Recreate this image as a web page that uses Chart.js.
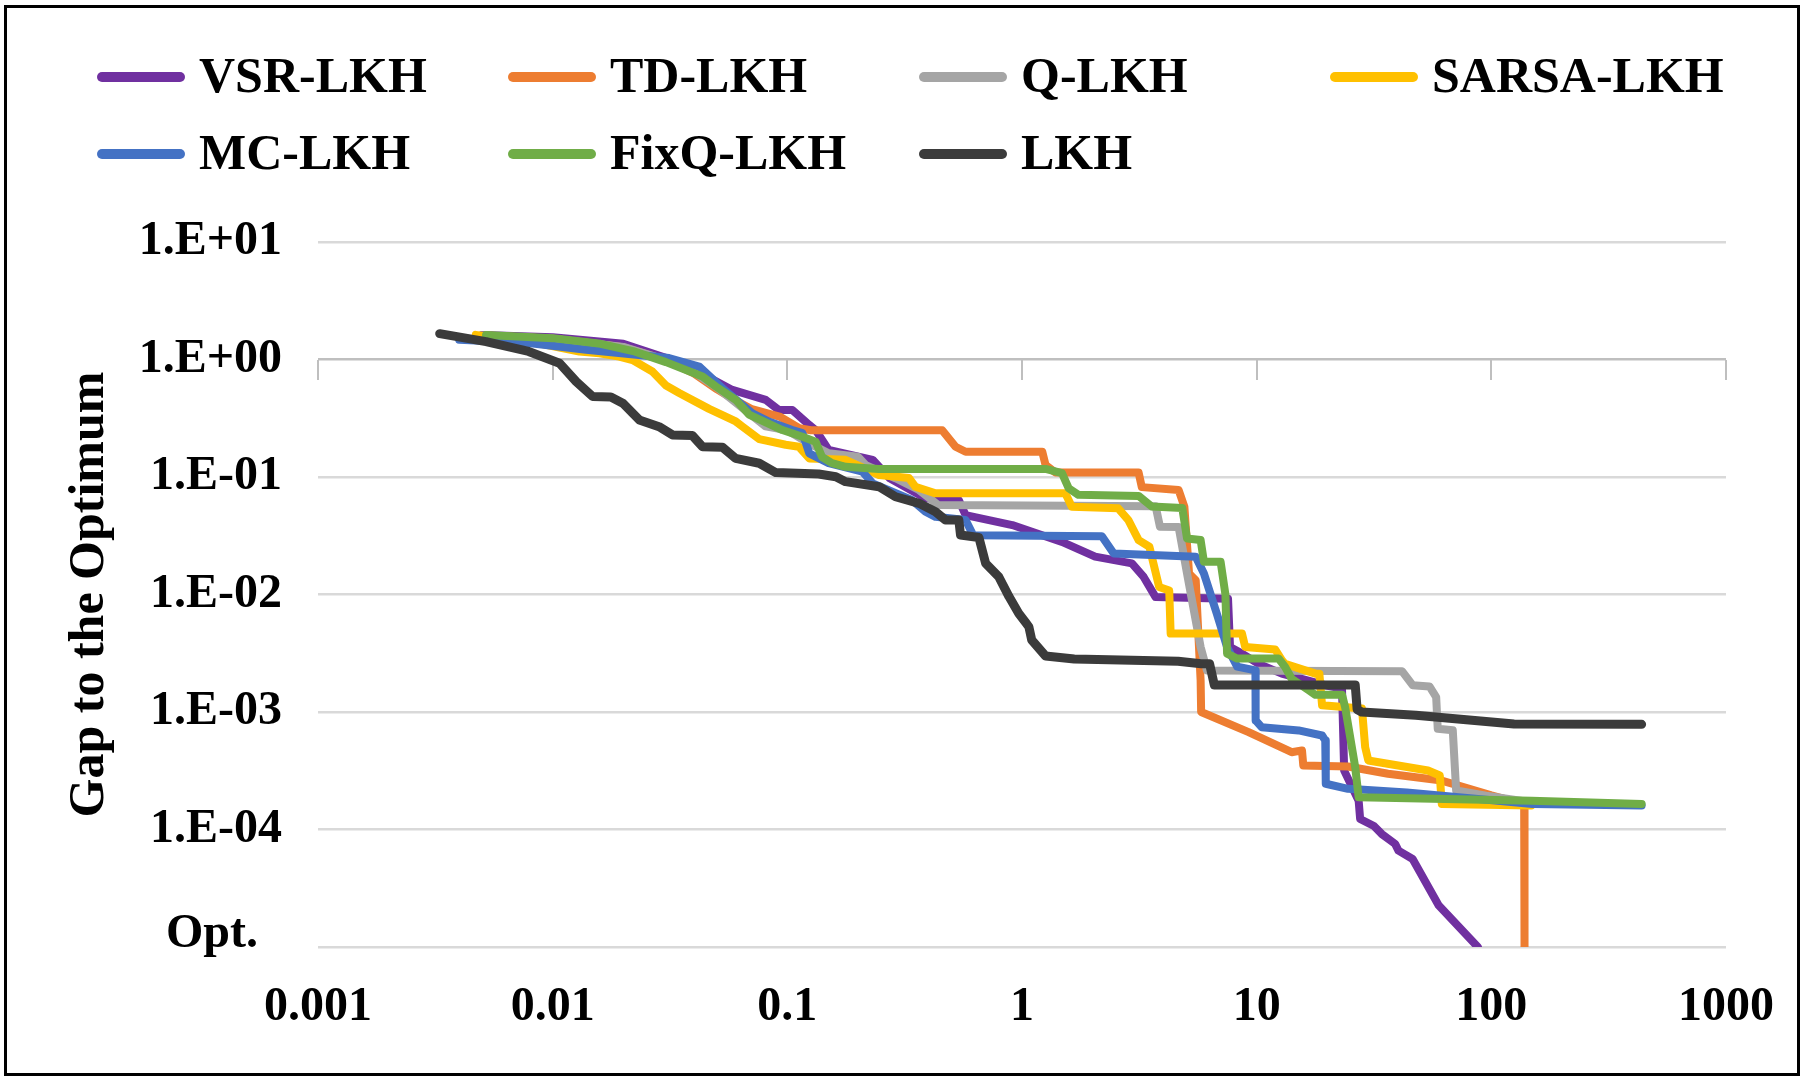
<!DOCTYPE html>
<html>
<head>
<meta charset="utf-8">
<script src="https://cdn.jsdelivr.net/npm/chart.js@4.4.0/dist/chart.umd.min.js"></script>
<style>
  html, body { margin: 0; padding: 0; background: #fff; }
  #wrap { position: relative; width: 1806px; height: 1079px; }
  #frame { position: absolute; left: 4px; top: 5px; width: 1790px; height: 1065px; border: 3px solid #000; pointer-events: none; }
</style>
</head>
<body>
<div id="wrap">
  <canvas id="myChart" width="1806" height="1079"></canvas>
  <div id="frame"></div>
</div>
<script>
// x: run time, y: gap to the optimum (1e-5 stands for "Opt.")
const xTicks = [0.001, 0.01, 0.1, 1, 10, 100, 1000];
const xLabels = ['0.001', '0.01', '0.1', '1', '10', '100', '1000'];
const yTicks = [1e-5, 1e-4, 1e-3, 1e-2, 1e-1, 1, 10];
const yLabels = ['Opt.', '1.E-04', '1.E-03', '1.E-02', '1.E-01', '1.E+00', '1.E+01'];

const seriesNames = ['VSR-LKH', 'TD-LKH', 'Q-LKH', 'SARSA-LKH', 'MC-LKH', 'FixQ-LKH', 'LKH'];

const vsrLkh = [[0.005,1.62],[0.01,1.55],[0.02,1.36],[0.0357,0.93],[0.0583,0.551],[0.0809,0.453],[0.092,0.372],[0.105,0.372],
  [0.124,0.277],[0.132,0.251],[0.15,0.17],[0.231,0.14],[0.273,0.0975],[0.388,0.0658],[0.538,0.0636],[0.575,0.0474],
  [0.909,0.039],[1.48,0.028],[2.05,0.021],[2.94,0.0184],[3.3,0.0141],[3.71,0.0095],[7.55,0.0092],[7.7,0.00357],
  [8.66,0.00314],[10.2,0.00257],[12.8,0.00212],[19.6,0.00169],[23.1,0.00158],[23.6,0.000317],[27.2,0.000176],
  [27.6,0.000123],[31.6,0.000107],[34.1,0.0000917],[38.9,0.0000754],[40.2,0.0000661],[46.2,0.0000561],
  [59.6,0.0000227],[87.6,0.00001]];
const tdLkh = [[0.0052,1.6],[0.01,1.5],[0.02,1.27],[0.03,1.0],[0.04,0.76],[0.05,0.56],[0.06,0.45],[0.07,0.38],
  [0.0926,0.327],[0.1125,0.26],[0.126,0.25],[0.457,0.25],[0.521,0.181],[0.575,0.164],[1.22,0.164],[1.26,0.1265],
  [1.39,0.109],[3.14,0.109],[3.24,0.082],[4.65,0.0775],[4.92,0.0558],[5.15,0.0151],[5.5,0.0132],[5.77,0.00186],
  [5.8,0.001],[9.24,0.000674],[14.1,0.000455],[15.6,0.000471],[15.8,0.000351],[24.5,0.000344],[36.3,0.000298],
  [61.4,0.000261],[72.4,0.000237],[100,0.000195],[136,0.000165],[138,0.00016],[138.5,0.00001]];
const qLkh = [[0.005,1.6],[0.01,1.5],[0.02,1.28],[0.03,1.0],[0.04,0.78],[0.05,0.58],[0.0807,0.27],[0.1,0.25],
  [0.12,0.2],[0.15,0.159],[0.2,0.149],[0.216,0.126],[0.289,0.0975],[0.364,0.0775],[0.44,0.0577],[3.71,0.0565],
  [3.87,0.0378],[4.65,0.0376],[5.05,0.0151],[5.77,0.00357],[6.14,0.00226],[41.7,0.00222],[46.2,0.00169],
  [54.5,0.00165],[58.2,0.00134],[59.1,0.00072],[68.5,0.0007],[70.8,0.000215],[95,0.000194],[150,0.00017]];
const sarsaLkh = [[0.0047,1.62],[0.008,1.42],[0.013,1.17],[0.0158,1.13],[0.0192,1.06],[0.0219,0.99],[0.0266,0.79],
  [0.0304,0.6],[0.0346,0.519],[0.0464,0.38],[0.0603,0.297],[0.0642,0.27],[0.0759,0.21],[0.0984,0.188],[0.112,0.181],
  [0.124,0.144],[0.177,0.14],[0.246,0.104],[0.33,0.098],[0.351,0.0827],[0.428,0.0726],[1.53,0.0726],[1.63,0.0558],
  [2.57,0.0541],[2.84,0.043],[3.14,0.029],[3.49,0.0255],[3.84,0.0116],[4.24,0.0108],[4.3,0.00465],[8.66,0.00465],
  [8.94,0.00357],[12.0,0.0034],[12.8,0.00276],[13.2,0.00257],[17.8,0.00212],[18.5,0.00212],[19.0,0.00114],
  [28.1,0.00107],[29,0.000502],[29.9,0.000387],[53.7,0.000318],[60.3,0.000288],[61.5,0.000165],[148,0.00016]];
const mcLkh = [[0.004,1.47],[0.0079,1.38],[0.0139,1.21],[0.0313,1.03],[0.0421,0.871],[0.0539,0.552],[0.071,0.349],
  [0.0834,0.297],[0.105,0.251],[0.116,0.236],[0.12,0.194],[0.124,0.159],[0.15,0.131],[0.209,0.111],[0.231,0.0883],
  [0.339,0.0637],[0.388,0.0506],[0.428,0.0458],[0.575,0.043],[0.619,0.032],[2.19,0.0313],[2.46,0.0223],[5.5,0.021],
  [5.96,0.0151],[6.76,0.00689],[7.48,0.00357],[8.26,0.00243],[9.88,0.00226],[9.9,0.000848],[10.5,0.000743],
  [15.1,0.000697],[19.0,0.000631],[19.6,0.000573],[19.7,0.000245],[24.5,0.000222],[43.6,0.000207],[150,0.000165],
  [437,0.00016]];
const fixqLkh = [[0.0052,1.62],[0.01,1.52],[0.016,1.36],[0.022,1.18],[0.0304,0.95],[0.0435,0.716],[0.0496,0.589],
  [0.0603,0.453],[0.0687,0.34],[0.0952,0.251],[0.116,0.22],[0.132,0.2],[0.1405,0.148],[0.155,0.131],[0.177,0.122],
  [0.245,0.117],[1.26,0.117],[1.48,0.108],[1.58,0.0803],[1.74,0.0705],[3.14,0.069],[3.57,0.0561],[4.82,0.0544],
  [5.05,0.030],[5.77,0.0291],[5.96,0.019],[7.02,0.019],[7.36,0.01],[7.48,0.00314],[8.26,0.00285],[12.4,0.00285],
  [13.2,0.00243],[14.1,0.00192],[16.6,0.00154],[17.8,0.0014],[23.1,0.0014],[23.8,0.00111],[26.3,0.000339],
  [27.2,0.000188],[148.5,0.000176],[437,0.000165]];
const lkh = [[0.0033,1.66],[0.0052,1.42],[0.0079,1.17],[0.0107,0.93],[0.0126,0.648],[0.0148,0.484],[0.0177,0.48],
  [0.0199,0.425],[0.0234,0.306],[0.0284,0.268],[0.0324,0.228],[0.0394,0.225],[0.0435,0.181],[0.0529,0.179],
  [0.0602,0.144],[0.0759,0.131],[0.0893,0.109],[0.136,0.106],[0.161,0.1006],[0.177,0.0913],[0.246,0.0827],
  [0.289,0.0679],[0.364,0.0597],[0.428,0.0506],[0.472,0.043],[0.538,0.043],[0.547,0.0321],[0.655,0.0306],
  [0.70,0.0184],[0.797,0.0141],[0.88,0.0096],[0.969,0.0069],[1.035,0.0058],[1.07,0.0053],[1.10,0.0041],
  [1.26,0.0030],[1.67,0.00283],[4.63,0.0027],[5.8,0.00257],[6.3,0.00257],[6.6,0.0017],[26.3,0.0017],
  [26.8,0.00105],[28,0.001],[47.7,0.00094],[125,0.00079],[437,0.000785]];

const seriesData = [vsrLkh, tdLkh, qLkh, sarsaLkh, mcLkh, fixqLkh, lkh];
const seriesColors = ['#7030a0', '#ed7d31', '#a5a5a5', '#ffc000', '#4472c4', '#70ad47', '#3b3b3b'];

const serif = "'Liberation Serif', 'Times New Roman', serif";
Chart.defaults.font.family = serif;
Chart.defaults.font.weight = 'bold';
Chart.defaults.color = '#000';

// legend in four fixed columns, like the spreadsheet one
const columnLegend = {
    id: 'columnLegend',
    afterDraw(chart) {
        const ctx = chart.ctx;
        ctx.save();
        ctx.font = 'bold 50px ' + serif;
        ctx.textBaseline = 'middle';
        ctx.textAlign = 'left';
        chart.data.datasets.forEach((ds, i) => {
            const x = 98 + (i % 4) * 411;
            const y = 77 + Math.floor(i / 4) * 77;
            ctx.strokeStyle = ds.borderColor;
            ctx.lineWidth = 10;
            ctx.lineCap = 'round';
            ctx.beginPath();
            ctx.moveTo(x + 4, y);
            ctx.lineTo(x + 82, y);
            ctx.stroke();
            ctx.fillStyle = '#000';
            ctx.fillText(ds.label, x + 101, y + 2);
        });
        ctx.restore();
    }
};

const decadeTicks = (list) => (scale) => { scale.ticks = list.map(v => ({ value: v })); };

const ctx = document.getElementById('myChart').getContext('2d');
const myChart = new Chart(ctx, {
    type: 'line',
    data: {
        datasets: seriesData.map((pts, i) => ({
            label: seriesNames[i],
            data: pts.map(([x, y]) => ({ x, y })),
            borderColor: seriesColors[i],
            backgroundColor: seriesColors[i],
            borderWidth: i === 6 ? 9 : 8,
            pointRadius: 0,
            tension: 0,
            fill: false,
            borderCapStyle: 'round',
            borderJoinStyle: 'round',
            // later series on top
            order: seriesData.length - i,
            xAxisID: 'x',
            yAxisID: 'y',
        })),
    },
    plugins: [columnLegend],
    options: {
        responsive: false,
        animation: false,
        layout: { padding: { top: 242, right: 78, bottom: 32, left: 56 } },
        plugins: {
            legend: { display: false },
            tooltip: { enabled: false },
        },
        scales: {
            x: {
                type: 'logarithmic',
                position: 'bottom',
                min: 0.001,
                max: 1000,
                afterBuildTicks: decadeTicks(xTicks),
                afterFit: (s) => { s.height = 100; },
                grid: { display: false, drawTicks: false },
                border: { display: false },
                ticks: {
                    color: '#000',
                    font: { size: 48, weight: 'bold' },
                    padding: 32,
                    maxRotation: 0,
                    autoSkip: false,
                    callback: (v, i) => xLabels[i],
                },
            },
            // axis line crosses at 1: only its tick marks are drawn
            x2: {
                type: 'logarithmic',
                axis: 'x',
                position: { y: 1 },
                min: 0.001,
                max: 1000,
                afterBuildTicks: decadeTicks(xTicks),
                grid: { drawOnChartArea: false, drawTicks: true, tickLength: 20, color: '#bfbfbf', lineWidth: 2 },
                border: { display: false },
                ticks: { display: false },
            },
            y: {
                type: 'logarithmic',
                min: 1e-5,
                max: 10,
                afterBuildTicks: decadeTicks(yTicks),
                afterFit: (s) => { s.width = 262; },
                grid: {
                    drawTicks: false,
                    lineWidth: 2.5,
                    color: (c) => (c.tick && c.tick.value === 1 ? '#bfbfbf' : '#d9d9d9'),
                },
                border: { display: false },
                ticks: {
                    color: '#000',
                    font: (c) => (c.index === 0
                        ? { size: 48, weight: 'bold', lineHeight: 0.5 }
                        : { size: 48, weight: 'bold' }),
                    padding: 36,
                    autoSkip: false,
                    // "Opt." sits a little higher and further left in the original
                    callback: (v, i) => (i === 0 ? [yLabels[i] + '  ', ''] : yLabels[i]),
                },
                title: {
                    display: true,
                    text: 'Gap to the Optimum',
                    color: '#000',
                    font: { size: 50, weight: 'bold' },
                    padding: { top: 4, bottom: 4 },
                },
            },
        },
    },
});
</script>
</body>
</html>
